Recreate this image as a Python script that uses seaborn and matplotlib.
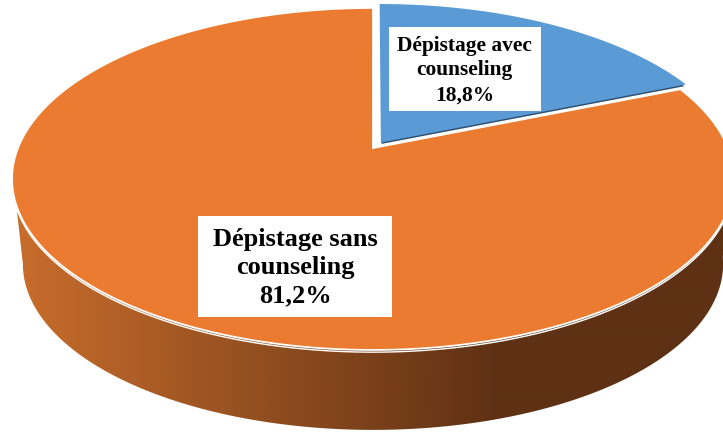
import numpy as np
import matplotlib
matplotlib.use("Agg")
import matplotlib.pyplot as plt
from matplotlib.colors import LinearSegmentedColormap
from matplotlib.patches import Rectangle, Polygon
from matplotlib.path import Path
from matplotlib.transforms import Transform
import seaborn as sns

categories = ["Dépistage avec\ncounseling", "Dépistage sans\ncounseling"]
values = [18.8, 81.2]
value_labels = ["18,8%", "81,2%"]
colors = ["#5B9BD5", "#EB7B31"]
explode = [0.04, 0.0]

sns.set_theme(style="white")
plt.rcParams["font.family"] = ["Liberation Serif", "DejaVu Serif"]


class Tilt(Transform):
    """Perspective view of the unit-circle pie, mapped to pixel-like data units."""
    input_dims = output_dims = 2
    has_inverse = False
    is_separable = False

    def __init__(self, cx=373, cy=148, a=355, b=165.4, k=0.181, scale=1.0, dy=0.0):
        super().__init__()
        self.p = (cx, cy, a, b, k, scale, dy)

    def transform_non_affine(self, xy):
        xy = np.asarray(xy, float)
        cx, cy, a, b, k, s, dy = self.p
        d = 1 + k * xy[:, 1]
        return np.column_stack([cx + s * a * xy[:, 0] / d,
                                cy + dy - s * b * xy[:, 1] / d])

    def transform_path_non_affine(self, path):
        pts = []
        for seg, code in path.iter_bezier():
            if code == Path.MOVETO:
                pts.append(seg.control_points[0])
            else:
                pts.extend(seg(np.linspace(0, 1, 60)[1:]))
        pts = np.array(pts + [pts[0]])
        return Path(self.transform_non_affine(pts), closed=True)


fig = plt.figure(figsize=(7.23, 4.32), dpi=100)
ax = fig.add_axes([0, 0, 1, 1])

# Dark sliver below the exploded blue slice
under, _ = ax.pie(values, explode=explode, colors=["#2F4F70", "none"],
                  startangle=90, counterclock=False)
for w in under:
    w.set_transform(Tilt(dy=2.2) + ax.transData)
    w.set_zorder(2)

wedges, _ = ax.pie(values, explode=explode, colors=colors, startangle=90,
                   counterclock=False,
                   wedgeprops=dict(edgecolor="white", linewidth=1.3))
top = Tilt()
for w in wedges:
    w.set_transform(top + ax.transData)
    w.set_zorder(3)
wedges[0].set_edgecolor("none")

ax.set_aspect("auto")
ax.set_xlim(0, 723)
ax.set_ylim(432, 0)
ax.axis("off")

# Side wall of the disc
t_low = np.radians(np.linspace(190.4, 352, 200))
t_up = np.radians(np.linspace(352, 199, 200))
low = Tilt(scale=0.97, dy=86).transform_non_affine(np.column_stack([np.cos(t_low), np.sin(t_low)]))
upp = top.transform_non_affine(np.column_stack([np.cos(t_up), np.sin(t_up)]))
outline = Polygon(np.vstack([low, upp]), closed=True, transform=ax.transData,
                  facecolor="none", edgecolor="none")
ax.add_patch(outline)
cmap = LinearSegmentedColormap.from_list("wall", ["#C86D2C", "#5F3114"])
grad = np.clip((np.arange(723) - 14) / (495 - 14), 0, 1)[None, :]
im = ax.imshow(grad, cmap=cmap, extent=(0, 723, 432, 170), aspect="auto",
               vmin=0, vmax=1, zorder=1, interpolation="bilinear")
im.set_clip_path(outline)
ax.set_xlim(0, 723)
ax.set_ylim(432, 0)

# Labels on white boxes
ax.add_patch(Rectangle((389, 27), 152, 84, facecolor="white", edgecolor="none", zorder=4))
ax.add_patch(Rectangle((198, 216), 194, 101, facecolor="white", edgecolor="none", zorder=4))
ax.text(464.5, 70.5, f"{categories[0]}\n{value_labels[0]}", ha="center", va="center",
        fontsize=15.4, fontweight="bold", color="black", linespacing=1.32, zorder=5)
ax.text(295, 267.5, f"{categories[1]}\n{value_labels[1]}", ha="center", va="center",
        fontsize=19, fontweight="bold", color="black", linespacing=1.3, zorder=5)

fig.savefig("out.png", dpi=100, facecolor="white")
